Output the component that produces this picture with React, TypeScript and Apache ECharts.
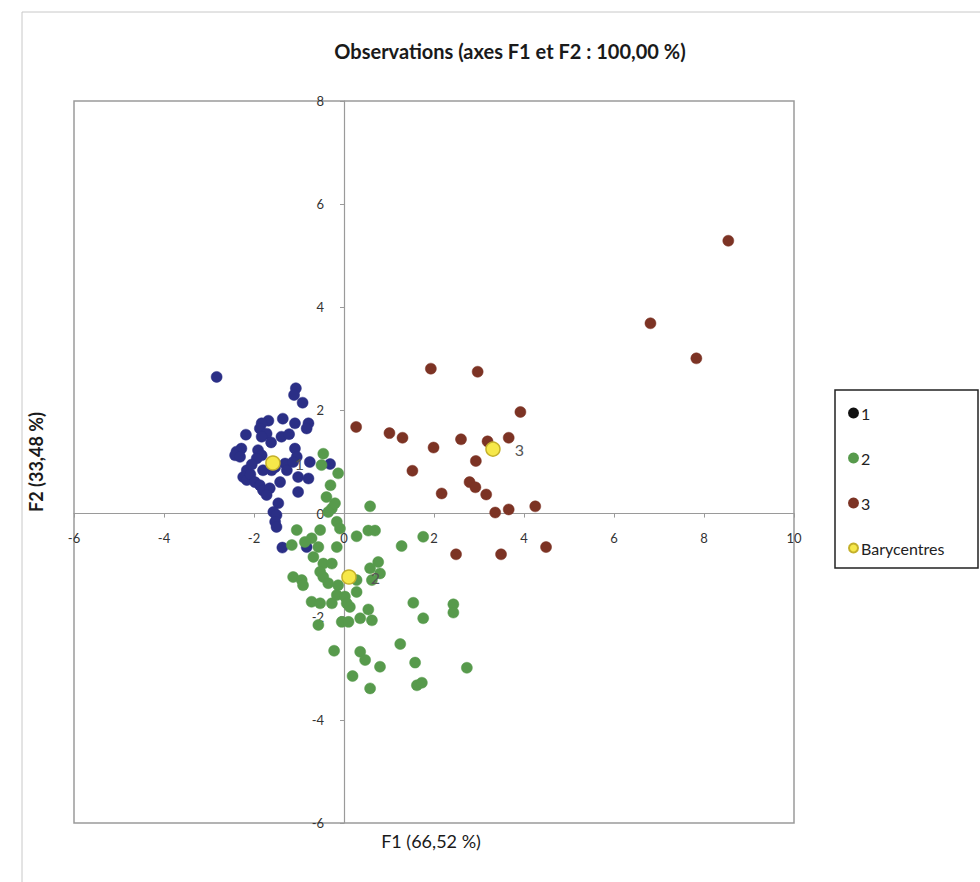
import React, { useEffect, useRef } from "react";
import * as echarts from "echarts";

const TITLE = "Observations (axes F1 et F2 : 100,00 %)";
const X_NAME = "F1 (66,52 %)";
const Y_NAME = "F2 (33,48 %)";
const SERIES_NAMES = ["1", "2", "3", "Barycentres"];

const group1: number[][] = [
  [-2.83, 2.65], [-1.07, 2.43], [-1.11, 2.30], [-0.92, 2.15], [-1.36, 1.84],
  [-1.09, 1.75], [-0.79, 1.75], [-0.83, 1.65], [-1.68, 1.80], [-1.83, 1.75],
  [-1.87, 1.65], [-1.72, 1.55], [-1.83, 1.49], [-2.18, 1.53], [-1.39, 1.49],
  [-1.22, 1.54], [-2.28, 1.26], [-2.39, 1.20], [-2.42, 1.13], [-2.31, 1.10],
  [-1.91, 1.23], [-1.83, 1.13], [-1.94, 1.07], [-1.09, 1.26], [-1.05, 1.10],
  [-1.31, 0.97], [-1.27, 0.84], [-1.61, 0.84], [-1.80, 0.84], [-0.76, 1.00],
  [-2.16, 0.84], [-2.24, 0.71], [-2.16, 0.65], [-2.08, 0.76], [-1.98, 0.61],
  [-1.87, 0.55], [-1.80, 0.45], [-1.65, 0.49], [-1.72, 0.36], [-1.42, 0.61],
  [-1.02, 0.71], [-0.79, 0.68], [-1.02, 0.42], [-1.46, 0.20], [-1.57, 0.03],
  [-1.50, -0.03], [-1.53, -0.16], [-1.50, -0.26], [-1.37, -0.66], [-0.83, -0.65],
  [-0.31, 0.96], [-1.13, 1.00], [-1.53, 0.90], [-2.05, 0.95], [-1.62, 1.38],
];

const group2: number[][] = [
  [-0.46, 1.16], [-0.50, 0.94], [-0.13, 0.78], [-0.39, 0.32], [-0.27, 0.10],
  [-0.35, 0.03], [0.58, 0.14], [-0.16, -0.16], [-0.09, -0.29], [-1.05, -0.32],
  [-0.53, -0.32], [-0.72, -0.48], [-0.87, -0.55], [-1.16, -0.61], [-0.57, -0.65],
  [-0.16, -0.65], [0.28, -0.44], [0.54, -0.33], [0.69, -0.33], [1.28, -0.63],
  [1.76, -0.45], [-0.68, -0.84], [-0.46, -0.97], [-0.27, -0.97], [-1.13, -1.23],
  [-0.94, -1.29], [-0.91, -1.39], [-0.53, -1.13], [-0.46, -1.23], [-0.35, -1.35],
  [-0.13, -1.39], [0.28, -1.29], [0.28, -1.52], [0.58, -1.06], [0.76, -0.94],
  [0.80, -1.16], [0.62, -1.29], [-0.72, -1.71], [-0.53, -1.74], [-0.27, -1.74],
  [-0.16, -1.58], [0.02, -1.61], [0.06, -1.74], [0.13, -1.81], [-0.05, -2.10],
  [0.10, -2.10], [0.36, -2.03], [0.54, -1.86], [0.62, -2.07], [-0.57, -2.16],
  [1.54, -1.73], [1.76, -2.03], [2.43, -1.76], [2.43, -1.92], [1.25, -2.53],
  [-0.22, -2.66], [0.36, -2.68], [0.47, -2.84], [0.80, -2.97], [1.58, -2.89],
  [2.73, -2.99], [0.19, -3.15], [0.58, -3.39], [1.62, -3.33], [1.73, -3.28],
  [-0.30, 0.55], [-0.20, 0.20],
];

const group3: number[][] = [
  [1.93, 2.81], [2.97, 2.75], [3.92, 1.97], [1.01, 1.56], [1.30, 1.47],
  [2.60, 1.44], [3.19, 1.40], [3.66, 1.47], [1.99, 1.28], [2.93, 1.02],
  [1.52, 0.83], [2.79, 0.61], [2.92, 0.51], [3.16, 0.37], [2.17, 0.39],
  [3.36, 0.02], [3.66, 0.08], [4.25, 0.14], [2.49, -0.79], [3.49, -0.79],
  [4.49, -0.65], [0.27, 1.68], [8.54, 5.29], [6.81, 3.69], [7.83, 3.01],
];

const baryPoints: number[][] = [
  [-1.58, 0.98], [0.11, -1.23], [3.31, 1.25],
];
const baryLabels = ["1", "2", "3"];

const X_MIN = -6, X_MAX = 10, Y_MIN = -6, Y_MAX = 8, STEP = 2;

const FONT = "Lato, 'Open Sans', 'Noto Sans', sans-serif";
const COLORS = ["#2b2f86", "#579a4c", "#7c3324", "#f6e84a"];

const GRID = { left: 74, top: 101, width: 720, height: 722 };

export default function App() {
  const ref = useRef<HTMLDivElement>(null);
  useEffect(() => {
    document.body.style.margin = "0";
    const chart = echarts.init(ref.current!, null, { renderer: "svg" });
    // distance from grid bottom/left to the zero lines, so axes sit on the zeros
    const zeroFromBottom = (GRID.height * (0 - Y_MIN)) / (Y_MAX - Y_MIN);
    const zeroFromLeft = (GRID.width * (0 - X_MIN)) / (X_MAX - X_MIN);
    const pointSeries = (name: string, data: number[][], color: string) => ({
      name,
      type: "scatter",
      data,
      symbol: "circle",
      symbolSize: 11,
      itemStyle: { color, opacity: 1, borderColor: color, borderWidth: 0.5 },
    });
    chart.setOption({
      animation: false,
      backgroundColor: "#ffffff",
      textStyle: { fontFamily: FONT },
      title: {
        text: TITLE,
        left: 505,
        top: 36,
        textAlign: "center",
        textStyle: { fontFamily: FONT, fontSize: 20, fontWeight: "bold", color: "#1a1a1a" },
      },
      grid: {
        ...GRID,
        show: true,
        borderColor: "#9a9a9a",
        borderWidth: 1.5,
        backgroundColor: "transparent",
      },
      legend: {
        orient: "vertical",
        left: 843,
        top: 399,
        itemWidth: 9,
        itemHeight: 9,
        itemGap: 27,
        icon: "circle",
        textStyle: { fontFamily: FONT, fontSize: 16, color: "#222", lineHeight: 18, padding: [0, 0, 0, -2] },
        data: [
          { name: SERIES_NAMES[0], itemStyle: { color: "#111111", borderColor: "#111111" } },
          { name: SERIES_NAMES[1] },
          { name: SERIES_NAMES[2] },
          { name: SERIES_NAMES[3] },
        ],
      },
      xAxis: {
        type: "value",
        min: X_MIN,
        max: X_MAX,
        interval: STEP,
        position: "bottom",
        offset: -zeroFromBottom,
        splitLine: { show: false },
        axisLine: { onZero: false, lineStyle: { color: "#9a9a9a", width: 1.2 } },
        axisTick: { show: true, inside: false, length: 4, lineStyle: { color: "#9a9a9a" } },
        axisLabel: { margin: 18, fontSize: 13, color: "#333", fontFamily: FONT },
      },
      yAxis: {
        type: "value",
        min: Y_MIN,
        max: Y_MAX,
        interval: STEP,
        position: "left",
        offset: -zeroFromLeft,
        splitLine: { show: false },
        axisLine: { onZero: false, lineStyle: { color: "#9a9a9a", width: 1.2 } },
        axisTick: { show: true, inside: false, length: 4, lineStyle: { color: "#9a9a9a" } },
        axisLabel: { margin: 20, fontSize: 13, color: "#333", fontFamily: FONT },
      },
      graphic: [
        {
          type: "rect",
          shape: { x: 22, y: 12, width: 970, height: 880 },
          style: { fill: "none", stroke: "#c8c8c8", lineWidth: 1 },
          silent: true,
        },
        {
          type: "rect",
          shape: { x: 835, y: 390, width: 143, height: 178 },
          style: { fill: "none", stroke: "#222", lineWidth: 1.5 },
          silent: true,
          z: -1,
        },
        {
          type: "text",
          x: 431,
          y: 841,
          style: { text: X_NAME, fontFamily: FONT, fontSize: 18, fill: "#1a1a1a", textAlign: "center", textVerticalAlign: "middle" },
        },
        {
          type: "text",
          x: 36,
          y: 462,
          rotation: Math.PI / 2,
          style: { text: Y_NAME, fontFamily: FONT, fontSize: 18, fontWeight: "bold", fill: "#1a1a1a", textAlign: "center", textVerticalAlign: "middle" },
        },
      ],
      series: [
        pointSeries(SERIES_NAMES[0], group1, COLORS[0]),
        pointSeries(SERIES_NAMES[1], group2, COLORS[1]),
        pointSeries(SERIES_NAMES[2], group3, COLORS[2]),
        {
          name: SERIES_NAMES[3],
          type: "scatter",
          data: baryPoints.map((p, i) => ({ value: p, name: baryLabels[i] })),
          symbol: "circle",
          symbolSize: 14,
          z: 5,
          itemStyle: { color: COLORS[3], borderColor: "#c4b02a", borderWidth: 1.5, opacity: 1 },
          label: {
            show: true,
            position: "right",
            distance: 14,
            formatter: (p: any) => p.name,
            fontFamily: FONT,
            fontSize: 16,
            color: "#555",
          },
        },
      ],
    });
    return () => chart.dispose();
  }, []);
  return <div ref={ref} style={{ width: 980, height: 882 }} />;
}
